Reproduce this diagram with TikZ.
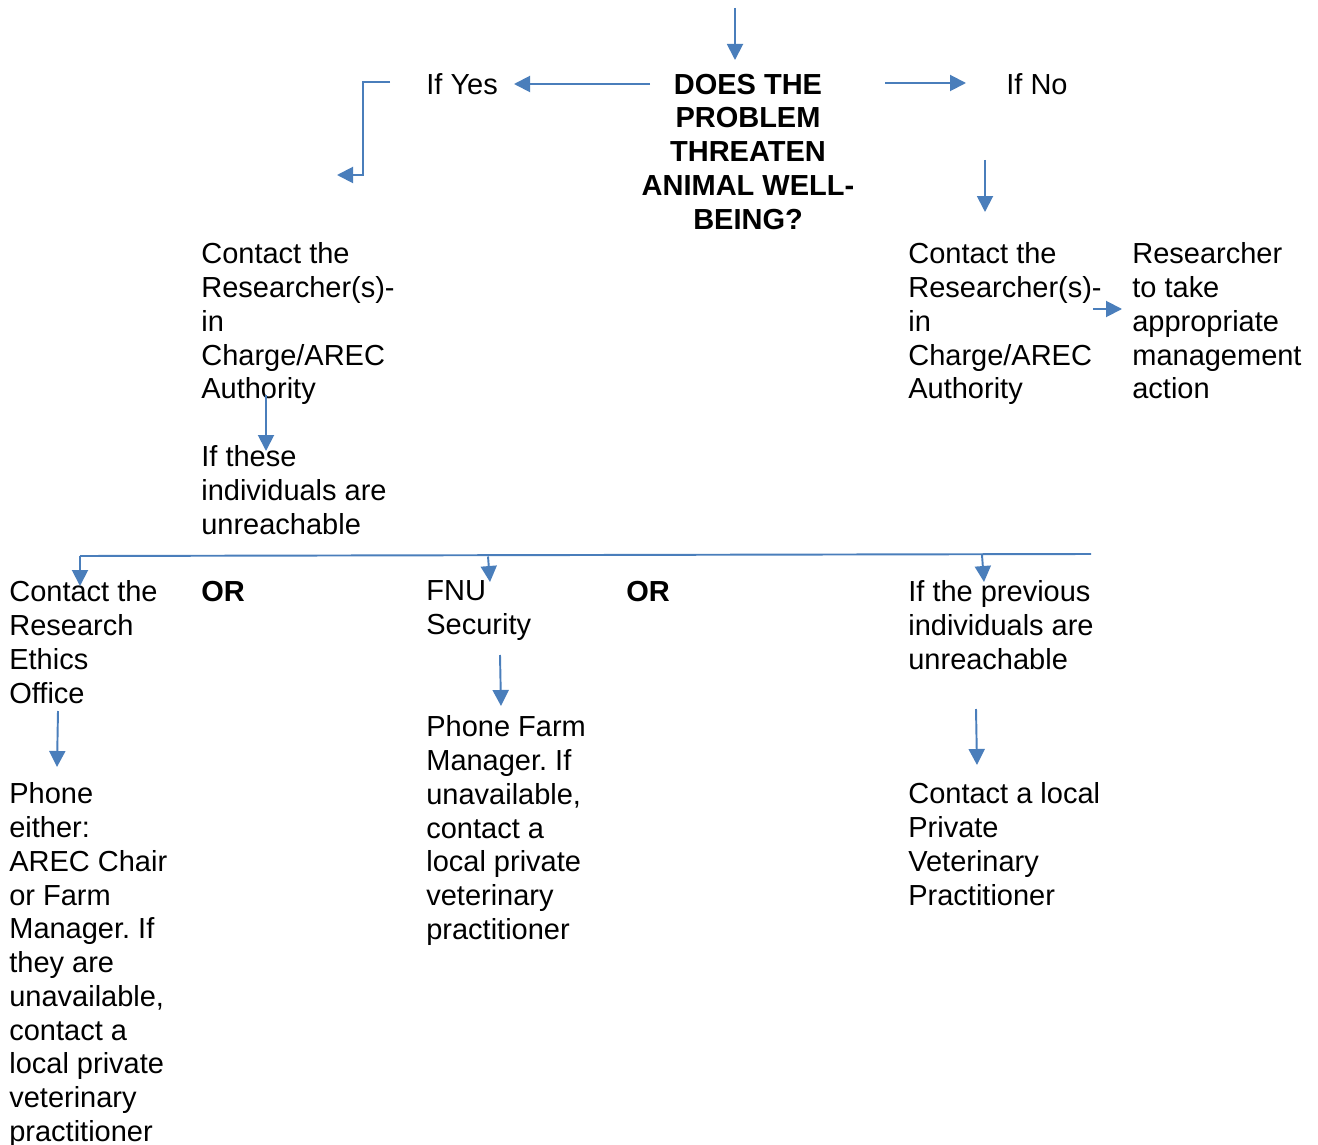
\documentclass[tikz,border=0pt]{standalone}
\usepackage{fontspec}
\setmainfont{Liberation Sans}
\usetikzlibrary{positioning,arrows.meta}
\definecolor{flowblue}{HTML}{4A7EBB}
\frenchspacing

\begin{document}
\begin{tikzpicture}[x=0.02cm, y=-0.02cm,
    every node/.style={font=\fontsize{16.5}{19.2}\selectfont, inner sep=0pt, align=left, anchor=north west},
    arr/.style={-{Triangle[width=0.32cm,length=0.32cm]}, line width=1.1pt, flowblue},
    bar/.style={line width=1.1pt, flowblue}]
      \useasboundingbox (0,0) rectangle (1318,1145);
      % Question
      \node[font=\fontsize{16.5}{19.2}\selectfont\bfseries, align=center, anchor=north] (question) at (748,73.5)
            {DOES THE\\PROBLEM\\THREATEN\\ANIMAL WELL-\\BEING?};
      \node (ifyes) at (426,73.5) {If Yes};
      \node (ifno) at (1006,73.5) {If No};
      % Upper branches
      \node (contactL) at (201,242.5) {Contact the\\Researcher(s)-\\in\\Charge/AREC\\Authority};
      \node (unreach) at (201,445.5) {If these\\individuals are\\unreachable};
      \node (contactR) at (908,242.5) {Contact the\\Researcher(s)-\\in\\Charge/AREC\\Authority};
      \node (mgmt) at (1132,242.5) {Researcher\\to take\\appropriate\\management\\action};
      % Lower row
      \node (ethics) at (9,580.5) {Contact the\\Research\\Ethics\\Office};
      \node[font=\fontsize{16.5}{19.2}\selectfont\bfseries] (or1) at (201,580.5) {OR};
      \node (fnu) at (426,580.5) {FNU\\Security};
      \node[font=\fontsize{16.5}{19.2}\selectfont\bfseries] (or2) at (626,580.5) {OR};
      \node (previous) at (908,580.5) {If the previous\\individuals are\\unreachable};
      \node (farmmgr) at (426,715.5) {Phone Farm\\Manager. If\\unavailable,\\contact a\\local private\\veterinary\\practitioner};
      \node (phone) at (9,782.5) {Phone\\either:\\AREC Chair\\or Farm\\Manager. If\\they are\\unavailable,\\contact a\\local private\\veterinary\\practitioner};
      \node (localvet) at (908,782.5) {Contact a local\\Private\\Veterinary\\Practitioner};
      % Arrow ends
      \coordinate (in0) at (735,8);      \coordinate (in1) at (735,60);
      \coordinate (yes0) at (650,84);    \coordinate (yes1) at (514,84);
      \coordinate (no0) at (885,83);     \coordinate (no1) at (966,83);
      \coordinate (elb0) at (390,82);    \coordinate (elb1) at (337,175);
      \coordinate (nod0) at (985,160);   \coordinate (nod1) at (985,212);
      \coordinate (act0) at (1093,309);  \coordinate (act1) at (1122,309);
      \coordinate (auth0) at (266,395);  \coordinate (auth1) at (266,451);
      \coordinate (barL) at (80,556);    \coordinate (barR) at (1091,554);
      \coordinate (sec0) at (500,655);   \coordinate (sec1) at (501,706);
      \coordinate (off0) at (58,711);    \coordinate (off1) at (57,767);
      \coordinate (prv0) at (976,709);   \coordinate (prv1) at (977,765);
      % Connectors
      \draw[arr] (in0) -- (in1);
      \draw[arr] (yes0) -- (yes1);
      \draw[arr] (no0) -- (no1);
      \draw[arr] (elb0) -- (363,82) |- (elb1);
      \draw[arr] (nod0) -- (nod1);
      \draw[arr] (act0) -- (act1);
      \draw[arr] (auth0) -- (auth1);
      \draw[bar] (barL) -- (barR);
      \draw[arr] (barL) -- (80,586);
      \draw[arr] (488,556.5) -- (490,582);
      \draw[arr] (982,555) -- (984,582);
      \draw[arr] (sec0) -- (sec1);
      \draw[arr] (off0) -- (off1);
      \draw[arr] (prv0) -- (prv1);
    \end{tikzpicture}
\end{document}
